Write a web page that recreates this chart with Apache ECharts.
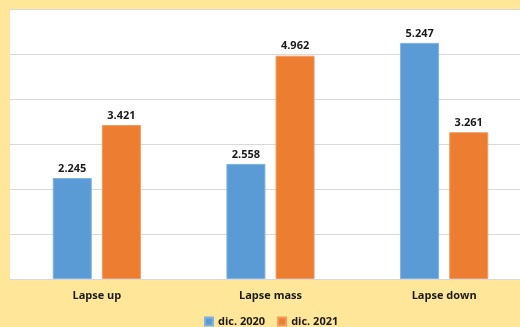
<!DOCTYPE html>
<html>
<head>
<meta charset="utf-8">
<script src="https://cdn.jsdelivr.net/npm/echarts@6/dist/echarts.min.js"></script>
<style>
  html, body { margin: 0; padding: 0; background: #FFE699; }
  #chart { width: 520px; height: 327px; }
</style>
</head>
<body>
<div id="chart"></div>
<script>
const categories = ['Lapse up', 'Lapse mass', 'Lapse down'];
const seriesNames = ['dic. 2020', 'dic. 2021'];
const values2020 = [2.245, 2.558, 5.247];
const values2021 = [3.421, 4.962, 3.261];

const FONT = '"Open Sans", sans-serif';
const chart = echarts.init(document.getElementById('chart'));

const labelStyle = {
  show: true,
  position: 'top',
  distance: 4,
  fontFamily: FONT,
  fontWeight: 'bold',
  fontSize: 11,
  color: '#1a1a1a',
  formatter: p => p.value.toFixed(3)
};

chart.setOption({
  backgroundColor: '#FFE699',
  animation: false,
  grid: {
    left: 10, width: 521, top: 9, height: 270,
    outerBoundsMode: 'none',
    show: true, backgroundColor: '#ffffff', borderWidth: 0
  },
  legend: {
    top: 316,
    left: 204,
    padding: 0,
    itemWidth: 8,
    itemHeight: 8,
    itemGap: 12,
    icon: 'rect',
    textStyle: { fontFamily: FONT, fontWeight: 'bold', fontSize: 11, color: '#1a1a1a' },
    data: seriesNames
  },
  xAxis: {
    type: 'category',
    data: categories,
    axisLine: { show: false },
    axisTick: { show: false },
    axisLabel: { fontFamily: FONT, fontWeight: 'bold', fontSize: 11, color: '#1a1a1a', margin: 11 }
  },
  yAxis: {
    type: 'value',
    min: 0, max: 6, interval: 1,
    axisLabel: { show: false },
    axisLine: { show: false },
    axisTick: { show: false },
    splitLine: { lineStyle: { color: '#d9d9d9', width: 1 } }
  },
  series: [
    {
      name: seriesNames[0], type: 'bar', data: values2020,
      barWidth: 39, barGap: '26%',
      itemStyle: { color: '#5B9BD5', borderColor: '#7fb2e0', borderWidth: 1 },
      label: labelStyle
    },
    {
      name: seriesNames[1], type: 'bar', data: values2021,
      barWidth: 39,
      itemStyle: { color: '#ED7D31', borderColor: '#f29a5e', borderWidth: 1 },
      label: labelStyle
    }
  ]
});
</script>
</body>
</html>
